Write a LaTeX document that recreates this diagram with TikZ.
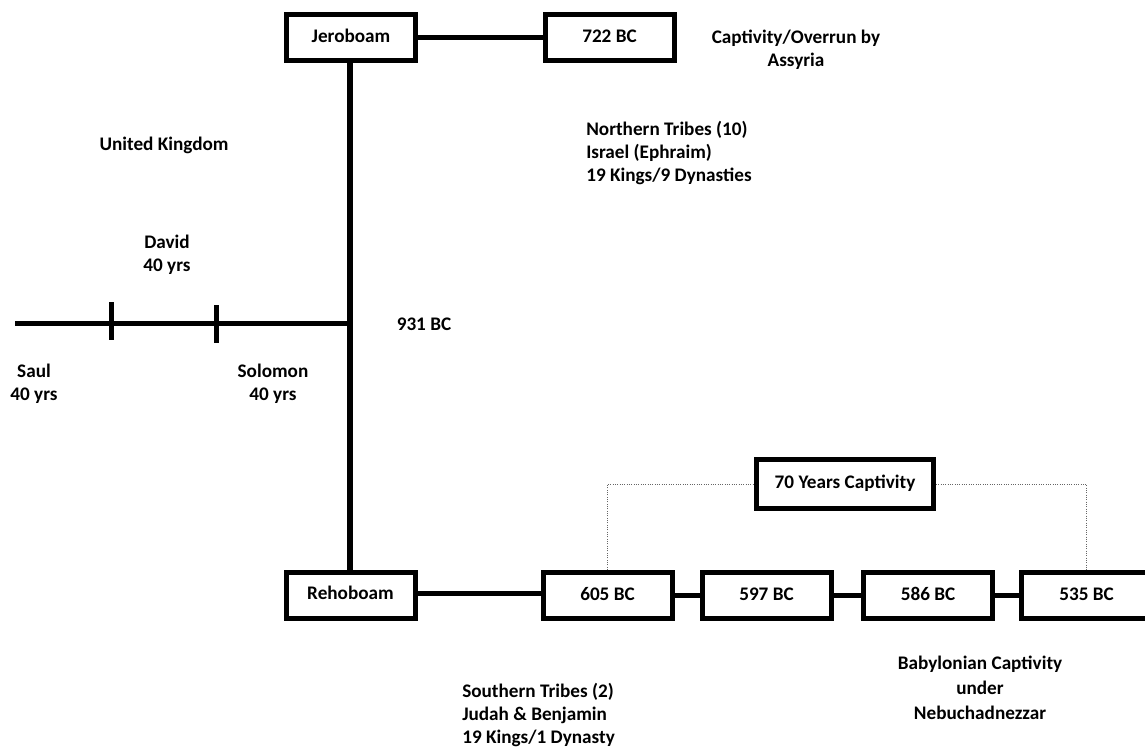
\documentclass[tikz,border=0pt]{standalone}
\usepackage{fontspec}
\setmainfont{Carlito}
\begin{document}
\begin{tikzpicture}[x=0.75pt,y=-0.75pt,
  every node/.style={font=\bfseries\fontsize{14.4}{17.6}\selectfont, inner sep=0pt},
  yearbox/.style={draw, line width=3.75pt, minimum width=129*0.75pt, minimum height=46*0.75pt, text height=10pt, text depth=3pt},
  wide/.style={yearbox, minimum width=177*0.75pt, minimum height=49*0.75pt},
  link/.style={line width=3.75pt},
  dotline/.style={densely dotted, black!60, line width=0.75pt},
  lbl/.style={align=center}]
\useasboundingbox (0,0) rectangle (1145,747);
\clip (0,0) rectangle (1145,747);
% boxes
\node[yearbox] (jer) at (351,37.5) {Jeroboam};
\node[yearbox] (y722) at (609.5,37.5) {722 BC};
\node[yearbox] (reh) at (350.5,595) {Rehoboam};
\node[yearbox] (y605) at (607.5,595.5) {605 BC};
\node[yearbox] (y597) at (766.5,595.5) {597 BC};
\node[yearbox] (y586) at (928,595.5) {586 BC};
\node[yearbox, minimum width=130*0.75pt] (y535) at (1086.5,595.5) {535 BC};
\node[wide] (seventy) at (845,484) {70 Years Captivity};
% timeline
\coordinate (start) at (15,323);
\coordinate (junc) at (350,323);
\coordinate (t1) at (111,321);
\coordinate (t2) at (216,324);
\draw[link] (start) -- (junc);
\draw[link, line width=4.5pt] (jer.south -| junc) -- (reh.north -| junc);
\draw[link] ([yshift=19*0.75pt]t1) -- ([yshift=-19*0.75pt]t1);
\draw[link] ([yshift=19*0.75pt]t2) -- ([yshift=-19*0.75pt]t2);
% connectors
\draw[link] (jer) -- (y722);
\draw[link] (reh.east |- 0,593) -- (y605.west |- 0,593);
\draw[link] (y605) -- (y597);
\draw[link] (y597) -- (y586);
\draw[link] (y586) -- (y535);
\draw[dotline] (y605.north) |- (seventy.west);
\draw[dotline] (seventy.east) -| (y535.north);
% labels
\node[lbl] (assyria) at (796,50) {Captivity/Overrun by\\Assyria};
\node[lbl] (uk) at (164,145) {United Kingdom};
\node[align=left, anchor=west] (north) at (586,153) {Northern Tribes (10)\\Israel (Ephraim)\\19 Kings/9 Dynasties};
\node[lbl] (david) at (167,255) {David\\40 yrs};
\node[lbl] (bc931) at (424,324) {931 BC};
\node[lbl] (saul) at (34,384) {Saul\\40 yrs};
\node[lbl] (solomon) at (273,384) {Solomon\\40 yrs};
\node[align=left, anchor=west] (south) at (462,715) {Southern Tribes (2)\\Judah \& Benjamin\\19 Kings/1 Dynasty};
\node[lbl, font=\bfseries\fontsize{14.4}{18.75}\selectfont] (babylon) at (980,688) {Babylonian Captivity\\under\\Nebuchadnezzar};
\end{tikzpicture}
\end{document}
